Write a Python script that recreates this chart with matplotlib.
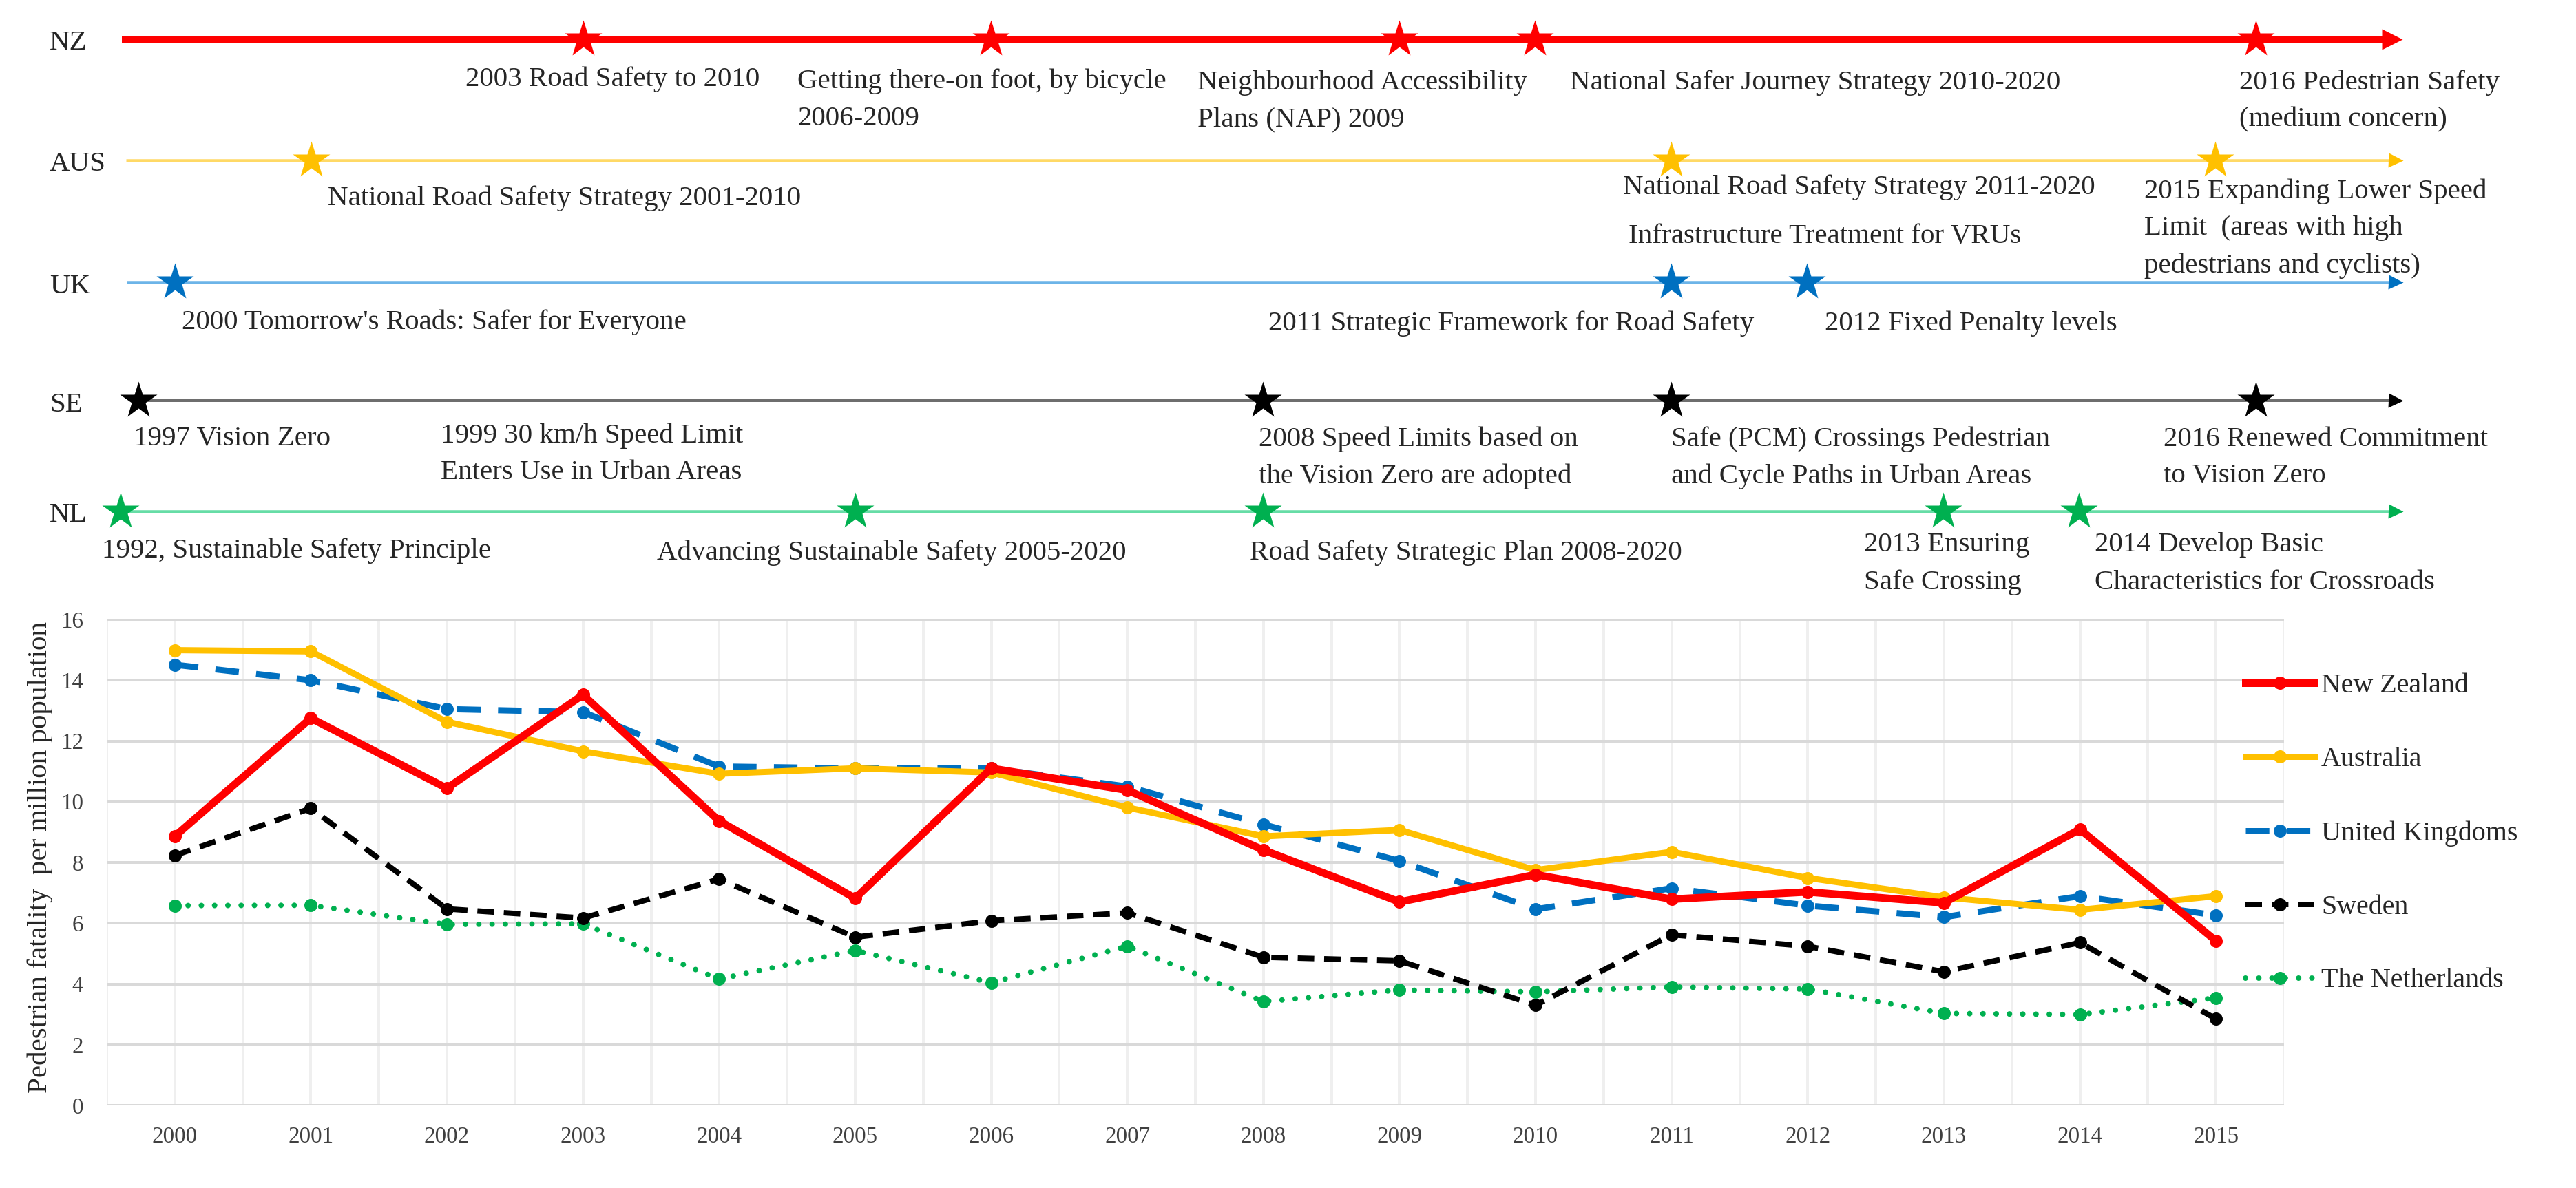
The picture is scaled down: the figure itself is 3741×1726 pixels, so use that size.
import matplotlib.pyplot as plt
import numpy as np

plt.rcParams['font.family'] = ['Liberation Serif', 'DejaVu Serif']

W, H = 3741, 1726
DPI = 72  # 1 pt == 1 px

# ---- chart data (pedestrian fatalities per million population) ----
years = list(range(2000, 2016))
new_zealand = [8.86, 12.75, 10.44, 13.52, 9.37, 6.82, 11.10, 10.38, 8.41, 6.70, 7.60, 6.79, 7.03, 6.67, 9.09, 5.42]
australia = [14.99, 14.95, 12.63, 11.66, 10.92, 11.10, 10.96, 9.81, 8.86, 9.07, 7.75, 8.35, 7.49, 6.85, 6.44, 6.89]
united_kingdoms = [14.51, 14.00, 13.05, 12.95, 11.16, 11.10, 11.10, 10.50, 9.25, 8.05, 6.46, 7.15, 6.58, 6.20, 6.89, 6.26]
sweden = [8.23, 9.78, 6.47, 6.17, 7.45, 5.54, 6.08, 6.34, 4.88, 4.76, 3.30, 5.62, 5.24, 4.40, 5.36, 2.85]
netherlands = [6.58, 6.59, 5.96, 5.98, 4.16, 5.10, 4.04, 5.24, 3.42, 3.80, 3.74, 3.90, 3.83, 3.03, 2.99, 3.54]
series_names = ['New Zealand', 'Australia', 'United Kingdoms', 'Sweden', 'The Netherlands']

# ---- timeline data (star positions on the shared year axis) ----
countries = ['NZ', 'AUS', 'UK', 'SE', 'NL']
nz_marks = [2003, 2006, 2009, 2010, 2015.3]
aus_marks = [2001, 2011, 2015]
uk_marks = [2000, 2011, 2012]
se_marks = [1999.73, 2008, 2011, 2015.3]
nl_marks = [1999.6, 2005, 2008, 2013, 2014]

events = [
    '2003 Road Safety to 2010',
    'Getting there-on foot, by bicycle\n2006-2009',
    'Neighbourhood Accessibility\nPlans (NAP) 2009',
    'National Safer Journey Strategy 2010-2020',
    '2016 Pedestrian Safety\n(medium concern)',
    'National Road Safety Strategy 2001-2010',
    'National Road Safety Strategy 2011-2020',
    '2015 Expanding Lower Speed\nLimit  (areas with high\npedestrians and cyclists)',
    'Infrastructure Treatment for VRUs',
    "2000 Tomorrow's Roads: Safer for Everyone",
    '2011 Strategic Framework for Road Safety',
    '2012 Fixed Penalty levels',
    '1997 Vision Zero',
    '1999 30 km/h Speed Limit\nEnters Use in Urban Areas',
    '2008 Speed Limits based on\nthe Vision Zero are adopted',
    'Safe (PCM) Crossings Pedestrian\nand Cycle Paths in Urban Areas',
    '2016 Renewed Commitment\nto Vision Zero',
    '1992, Sustainable Safety Principle',
    'Advancing Sustainable Safety 2005-2020',
    'Road Safety Strategic Plan 2008-2020',
    '2013 Ensuring\nSafe Crossing',
    '2014 Develop Basic\nCharacteristics for Crossroads',
]

# layout: where the event texts sit (pixels, first line centre)
event_xy = [(676, 115), (1158, 118), (1739, 120), (2280, 120), (3252, 120),
            (476, 288), (2357, 272), (3114, 278), (2365, 343),
            (264, 468), (1842, 470), (2650, 470),
            (194, 637), (640, 633), (1828, 638), (2427, 638), (3142, 638),
            (148, 800), (954, 803), (1815, 803), (2707, 792), (3042, 792)]

row_y = [57, 233, 410, 582, 743]
row_start = [177, 183, 184, 200, 173]
line_col = ['#FF0000', '#FFD966', '#6CB4E8', '#6E6E6E', '#66DDA6']
line_w = [10, 4.5, 4.5, 4, 4.5]
mark_col = ['#FF0000', '#FFC000', '#0070C0', '#000000', '#00B050']
head_ms = [30, 21, 21, 21, 21]
TIP = 3489
TXT = '#262626'


def px2yr(px):
    return 2000 + (px - 254) / 197.5


fig = plt.figure(figsize=(W / DPI, H / DPI), dpi=DPI)

# timeline drawn on a full-figure axes: x in years, y in pixels from the top
tl = fig.add_axes([0, 0, 1, 1])
tl.set_xlim(px2yr(0), px2yr(W))
tl.set_ylim(H, 0)
tl.axis('off')

all_marks = [nz_marks, aus_marks, uk_marks, se_marks, nl_marks]
for i, name in enumerate(countries):
    y = row_y[i]
    hm = head_ms[i]
    tl.plot([px2yr(row_start[i]), px2yr(TIP - hm * 0.6)], [y, y],
            color=line_col[i], lw=line_w[i], solid_capstyle='butt', zorder=2)
    tl.plot([px2yr(TIP - hm / 2)], [y], marker='>', ms=hm, color=mark_col[i],
            mec='none', zorder=3)
    tl.plot(all_marks[i], [y] * len(all_marks[i]), ls='none', marker='*', ms=56,
            color=mark_col[i], mec='none', zorder=4)
    tl.text(px2yr(72), y + 6, name, fontsize=41, color=TXT, ha='left', va='center')

for txt, (x, y) in zip(events, event_xy):
    for k, line in enumerate(txt.split('\n')):
        tl.text(px2yr(x), y + k * 54, line, fontsize=41, color=TXT,
                ha='left', va='center')

# ---- line chart ----
ax = fig.add_axes([155 / W, 1 - 1606 / H, 3162 / W, 706 / H])
ax.set_xlim(1999.5, 2015.5)
ax.set_ylim(0, 16)

styles = [
    dict(color='#FF0000', lw=11, ls='-', zorder=6),
    dict(color='#FFC000', lw=9, ls='-', zorder=5),
    dict(color='#0070C0', lw=9, ls=(0, (3.8, 2.8)), zorder=4),
    dict(color='#000000', lw=8, ls=(0, (3.0, 1.8)), zorder=3),
    dict(color='#00B050', lw=8, ls=(0, (0.01, 2.4)), dash_capstyle='round', zorder=2),
]
handles = []
for vals, name, st in zip([new_zealand, australia, united_kingdoms, sweden, netherlands],
                          series_names, styles):
    h, = ax.plot(years, vals, marker='o', ms=19, mec='none', label=name, **st)
    handles.append(h)

ax.set_yticks(np.arange(0, 17, 2))
ax.set_xticks(years)
ax.set_xticks(np.arange(1999.5, 2016, 0.5), minor=True)
ax.grid(axis='x', which='both', color='#EFEFEF', lw=4)
ax.grid(axis='y', which='major', color='#D9D9D9', lw=4)
ax.set_axisbelow(True)
for s in ax.spines.values():
    s.set_visible(False)
ax.tick_params(axis='both', which='both', length=0, labelsize=33, labelcolor='#404040')
ax.tick_params(axis='x', pad=30)
ax.tick_params(axis='y', pad=34)

fig.text(58 / W, 1 - 1245 / H, 'Pedestrian fatality  per million population',
         rotation=90, ha='center', va='center', fontsize=41, color=TXT)

fig.legend(handles=handles, labels=series_names, loc='upper left',
           bbox_to_anchor=(3261 / W, 1 - 978 / H), frameon=False, fontsize=40,
           handlelength=2.5, handletextpad=0.25, labelspacing=1.75,
           borderpad=0, borderaxespad=0, numpoints=1, labelcolor=TXT)

fig.savefig('out.png', dpi=DPI)
